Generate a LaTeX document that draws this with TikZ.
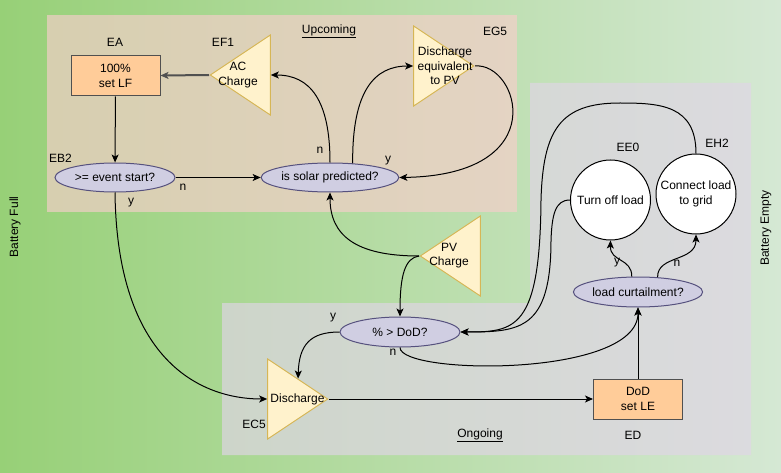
\documentclass[tikz,border=0pt]{standalone}
\usepackage{fontspec}
\setmainfont{Liberation Sans}
\usetikzlibrary{%
  arrows.meta,%
  calc,%
  shapes.geometric%
}
\definecolor{bgleft}{RGB}{151,208,119}
\definecolor{bgright}{RGB}{213,232,212}
\definecolor{upfill}{RGB}{248,206,204}
\definecolor{ongoingfill}{RGB}{225,213,231}
\definecolor{trifill}{RGB}{255,242,204}
\definecolor{triedge}{RGB}{214,182,86}
\definecolor{boxfill}{RGB}{255,204,153}
\definecolor{boxedge}{RGB}{80,80,80}
\definecolor{decfill}{RGB}{208,206,226}
\definecolor{decedge}{RGB}{86,81,126}
\tikzset{
  box/.style={draw=boxedge,fill=boxfill,minimum width=89pt,minimum height=40pt,align=center,inner sep=0pt},
  tri/.style={isosceles triangle,isosceles triangle stretches,draw=triedge,fill=trifill,
    minimum width=80pt,minimum height=60pt,inner sep=0pt},
  dec/.style={ellipse,draw=decedge,fill=decfill,minimum width=120pt,minimum height=29pt,inner sep=0pt},
  endstate/.style={circle,draw=black,fill=white,minimum size=80pt,inner sep=0pt,align=center},
}

\begin{document}
\begin{tikzpicture}[x=1pt,y=-1pt,line width=1pt,
  >={Stealth[length=8pt,width=7pt,inset=2pt]},
  every node/.style={font=\fontsize{12}{14.5}\selectfont,align=center}]
  \useasboundingbox (0,0) rectangle (781,473);
  \shade[left color=bgleft,right color=bgright] (0,0) rectangle (781,473);
  \fill[upfill,fill opacity=0.65] (47,15) rectangle (517,212);
  \fill[ongoingfill,fill opacity=0.66] (222,303) -- (530,303) -- (530,83) -- (751,83)
    -- (751,455) -- (222,455) -- cycle;

  % upcoming
  \node[box] (ea) at (115.5,76) {100\%\\set LF};
  \node[tri,shape border rotate=180,anchor=apex] (ef1) at (209,75) {};
  \node (ef1text) at (238,75) {AC\\Charge};
  \node[tri,anchor=apex] (eg5) at (475,66) {};
  \node (eg5text) at (445,66) {Discharge\\equivalent\\to PV};
  \node[dec] (eb2) at (115,177.5) {>= event start?};
  \node[dec] (solar) at (330,177.5) {is solar predicted?};

  % ongoing
  \node[tri,shape border rotate=180,anchor=apex] (pv) at (419,256) {};
  \node (pvtext) at (449,255.5) {PV\\Charge};
  \node[dec,minimum height=30pt] (dod) at (400,332) {\% > DoD?};
  \node[tri,anchor=apex] (ec5) at (329,399) {};
  \node (ec5text) at (297.5,399) {Discharge};
  \node[box] (ed) at (638,399) {DoD\\set LE};
  \node[dec,minimum height=30pt] (lc) at (638,292) {load curtailment?};
  \node[endstate] (ee0) at (610.5,200) {Turn off load};
  \node[endstate] (eh2) at (696,194) {Connect load\\to grid};

  % tags
  \node (eatag) at (115,42) {EA};
  \node (ef1tag) at (223,42) {EF1};
  \node (eg5tag) at (495,31) {EG5};
  \node (eb2tag) at (60.5,158) {EB2};
  \node (ec5tag) at (254,424) {EC5};
  \node (edtag) at (633,435) {ED};
  \node (ee0tag) at (628,147) {EE0};
  \node (eh2tag) at (717,143) {EH2};
  \node (uptitle) at (329,31) {\underline{Upcoming}};
  \node (ongtitle) at (480,435) {\underline{Ongoing}};
  \node[rotate=90] (full) at (15,227) {Battery Full};
  \node[rotate=90] (empty) at (766,228) {Battery Empty};

  % connectors
  \draw[->,line width=2pt,draw=boxedge] (ef1.apex) -- (ea);
  \draw[->] (ea) -- (eb2);
  \draw[->] (eb2) -- (solar);
  \node (eb2n) at (183,187) {n};
  \draw[->] (eb2.south) .. controls (117,360) and (200,399) .. (ec5.lower side);
  \node (eb2y) at (131,203) {y};
  \draw[->] (solar.north) .. controls (330,100) and (310,75) .. (ef1.lower side);
  \node (solarn) at (320,150) {n};
  \draw[->] (solar.32) .. controls (352,90) and (375,66) .. (eg5.lower side);
  \draw[->] (eg5.apex) .. controls (518,62) and (555,175) .. (solar.east);
  \node (solary) at (388,161) {y};
  \draw[->] (pv.apex) .. controls (355,256) and (330,235) .. (solar.south);
  \draw[->] (pv.apex) .. controls (405,258) and (400,275) .. (dod.north);
  \draw[->] (dod.west) .. controls (310,332) and (299,345) .. (ec5.left side);
  \node (dody) at (333,318) {y};
  \draw[->] (dod.south) .. controls (400,375) and (638,378) .. (lc.south);
  \node (dodn) at (393,352) {n};
  \draw[->] (ec5.apex) -- (ed);
  \draw[->] (ed) -- (lc);
  \draw[->] (lc.112) .. controls (632,258) and (610,262) .. (ee0.south);
  \node (lcy) at (617,263) {y};
  \draw[->] (lc.37) .. controls (657,255) and (696,262) .. (eh2.south);
  \node (lcn) at (677,263) {n};
  \draw[->] (ee0.west) .. controls (555,200) and (552,215) .. (551,240)
    .. controls (551,330) and (520,332) .. (dod.east);
  \draw[->] (eh2.north) .. controls (696,105) and (660,103) .. (620,103)
    .. controls (560,103) and (543,130) .. (541,200)
    .. controls (540,330) and (515,332) .. (dod.east);
\end{tikzpicture}
\end{document}
